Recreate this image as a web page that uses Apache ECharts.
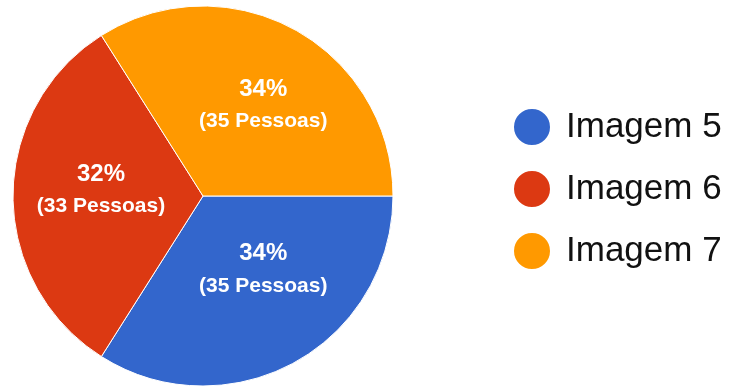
<!DOCTYPE html>
<html>
<head>
<meta charset="utf-8">
<script src="https://cdn.jsdelivr.net/npm/echarts@6/dist/echarts.min.js"></script>
<style>
  html, body { margin: 0; padding: 0; background: #ffffff; }
  #chart { width: 729px; height: 387px; }
</style>
</head>
<body>
<div id="chart"></div>
<script>
// Respostas por imagem
const categories = ['Imagem 5', 'Imagem 6', 'Imagem 7'];
const pessoas = [35, 33, 35];
const colors = ['#3366cc', '#dc3912', '#ff9900'];
// Ajuste fino da posição dos rótulos dentro de cada fatia
const labelOffsets = [[13, -12], [-4, -6], [13, -5]];

const total = pessoas.reduce((a, b) => a + b, 0);

const chart = echarts.init(document.getElementById('chart'), null, { renderer: 'canvas' });

chart.setOption({
  animation: false,
  backgroundColor: '#ffffff',
  color: colors,
  legend: {
    orient: 'vertical',
    left: 512,
    top: 107,
    padding: 0,
    icon: 'circle',
    itemWidth: 38,
    itemHeight: 38,
    itemGap: 22,
    data: categories,
    textStyle: {
      fontFamily: '"Liberation Sans", Arial, sans-serif',
      fontSize: 35,
      color: '#111111',
      padding: [0, 0, 0, 10]
    }
  },
  series: [{
    type: 'pie',
    center: [203, 196],
    radius: 190,
    startAngle: 0,
    clockwise: true,
    avoidLabelOverlap: false,
    itemStyle: { borderColor: '#ffffff', borderWidth: 1 },
    label: {
      show: true,
      position: 'inside',
      formatter: function (p) {
        const pct = Math.round(p.value / total * 100);
        return '{pct|' + pct + '%}\n{n|(' + p.value + ' Pessoas)}';
      },
      rich: {
        pct: {
          color: '#ffffff',
          fontFamily: '"Liberation Sans", Arial, sans-serif',
          fontWeight: 'bold',
          fontSize: 24,
          lineHeight: 32,
          align: 'center'
        },
        n: {
          color: '#ffffff',
          fontFamily: '"Liberation Sans", Arial, sans-serif',
          fontWeight: 'bold',
          fontSize: 21,
          lineHeight: 32,
          align: 'center'
        }
      }
    },
    labelLine: { show: false },
    emphasis: { disabled: true },
    data: categories.map((name, i) => ({
      name: name,
      value: pessoas[i],
      label: { offset: labelOffsets[i] }
    }))
  }]
});
</script>
</body>
</html>
